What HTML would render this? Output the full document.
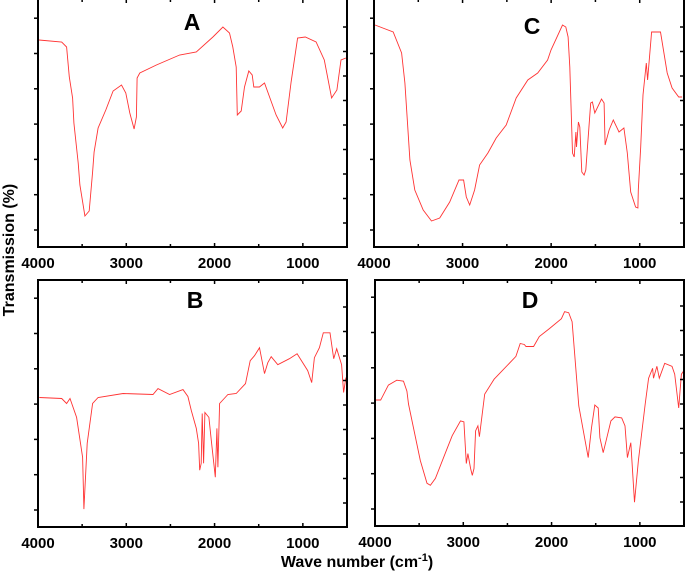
<!DOCTYPE html>
<html><head><meta charset="utf-8"><style>
html,body{margin:0;padding:0;background:#fff;}
svg{display:block;font-family:"Liberation Sans",Arial,sans-serif;}
</style></head><body>
<svg id="chart" width="685" height="573" viewBox="0 0 685 573" xmlns="http://www.w3.org/2000/svg">
<text x="0" y="0" transform="translate(14,250) rotate(-90)" text-anchor="middle" font-size="16" font-weight="bold">Transmission  (%)</text>
<text x="357" y="567" text-anchor="middle" font-size="16" font-weight="bold">Wave number  (cm<tspan dy="-6" font-size="11">-1</tspan><tspan dy="6">)</tspan></text>
</svg>
<script>
const xTicks = [4000, 3000, 2000, 1000];
const xTickLabels = ["4000", "3000", "2000", "1000"];
const wnA = [3989,3732,3676,3646,3608,3593,3545,3525,3469,3420,3382,3364,3319,3232,3149,3054,3006,2960,2912,2885,2878,2847,2659,2396,2207,2019,1906,1831,1793,1755,1743,1698,1661,1612,1574,1556,1492,1435,1303,1228,1190,1133,1059,972,850,757,674,614,568,512];
const tA = [207,205,200,170,149,124,84,62,31,36,75,95,119,137,156,162,154,134,118,130,169,174,182,192,195,210,220,214,200,180,132,136,160,176,172,160,160,164,132,119,125,165,209,210,205,187,149,157,187,189];
const wnB = [3985,3732,3676,3638,3563,3495,3480,3443,3382,3319,3036,2697,2641,2509,2358,2302,2264,2207,2181,2169,2151,2140,2124,2109,2064,2037,1992,1974,1962,1943,1849,1755,1650,1596,1548,1491,1435,1397,1359,1284,1152,1065,945,900,869,813,768,692,651,617,561,538,512];
const tB = [130,129,124,129,110,70,18,84,124,130,134,133,139,133,138,131,117,99,84,57,64,114,64,115,110,87,50,99,60,124,133,134,144,167,172,180,154,165,171,163,169,174,157,145,170,180,195,195,169,179,163,135,150];
const wnC = [3989,3783,3688,3651,3595,3539,3445,3351,3258,3145,3040,2988,2958,2920,2864,2808,2714,2620,2507,2395,2264,2152,2040,2002,1872,1834,1808,1789,1759,1740,1721,1714,1692,1676,1654,1628,1609,1553,1534,1507,1432,1402,1391,1346,1298,1234,1178,1140,1102,1046,1020,1016,989,963,926,911,866,765,690,634,560,522];
const tC = [222,215,194,164,87,57,37,26,29,45,67,67,50,42,57,82,94,109,122,149,167,174,187,197,222,220,210,180,94,90,115,100,125,120,75,72,77,144,145,134,148,144,102,117,127,115,119,94,55,40,39,57,100,152,184,167,215,215,174,159,150,150];
const wnD = [3989,3935,3848,3753,3677,3639,3620,3487,3411,3373,3316,3183,3126,3031,2993,2966,2948,2917,2898,2879,2860,2834,2818,2757,2651,2404,2355,2309,2290,2203,2139,2025,1889,1852,1806,1768,1692,1585,1548,1510,1472,1453,1415,1377,1328,1282,1206,1168,1141,1103,1061,1016,940,901,856,845,807,780,719,636,605,560,529,491];
const tD = [127,127,142,147,146,136,123,66,43,41,48,78,91,106,105,63,73,58,51,58,96,101,90,133,148,171,184,183,181,181,191,199,209,216,215,206,121,69,99,122,119,89,74,88,106,110,109,101,69,84,24,66,123,149,159,149,161,149,164,161,153,119,153,158];

const NS = "http://www.w3.org/2000/svg";
const svg = document.getElementById('chart');
function mk(tag, attrs, parent) {
  const e = document.createElementNS(NS, tag);
  for (const k in attrs) e.setAttribute(k, attrs[k]);
  (parent || svg).appendChild(e);
  return e;
}
const panels = [
  {id:'a', label:'A', x0:38, x1:347, y0:-1, y1:247, wn:wnA, t:tA, lx:192, ly:30},
  {id:'c', label:'C', x0:374, x1:684, y0:-1, y1:247, wn:wnC, t:tC, lx:532, ly:34},
  {id:'b', label:'B', x0:38, x1:347, y0:280, y1:527, wn:wnB, t:tB, lx:195, ly:308},
  {id:'d', label:'D', x0:375, x1:684, y0:280, y1:526, wn:wnD, t:tD, lx:530, ly:308}
];
panels.forEach(p => {
  const g = mk('g', {});
  
  
  const xs = w => p.x0 + (4000 - w) / 3500 * (p.x1 - p.x0);
  const ys = v => p.y1 - v / 248 * (p.y1 - p.y0);
  let d = '';
  p.wn.forEach((w, i) => { d += (i ? 'L' : 'M') + xs(w).toFixed(1) + ',' + ys(p.t[i]).toFixed(1); });
  const path = mk('path', {d:d, fill:'none', stroke:'#ff3333', 'stroke-width':0.9}, g);
  
  
  const fr = mk('rect', {x:p.x0, y:p.y0, width:p.x1 - p.x0, height:p.y1 - p.y0, fill:'none', stroke:'#000', 'stroke-width':2}, g);
  
  
  for (let w = 4000; w >= 500; w -= 500) {
    const x = xs(w);
    const len = (w % 1000 === 0) ? 4 : 3;
    mk('line', {x1:x, x2:x, y1:p.y1, y2:p.y1 - len, stroke:'#000', 'stroke-width':1.5}, g);
    mk('line', {x1:x, x2:x, y1:p.y0, y2:p.y0 + len, stroke:'#000', 'stroke-width':1.5}, g);
  }
  for (let y = p.y1 - 17; y > p.y0 + 5; y -= 35.3) {
    mk('line', {x1:p.x0 - 4, x2:p.x0, y1:y, y2:y, stroke:'#000', 'stroke-width':1.5}, g);
  }
  for (let y = p.y1 - 24; y > p.y0 + 20; y -= 24.5) {
    mk('line', {x1:p.x1 - 4, x2:p.x1, y1:y, y2:y, stroke:'#000', 'stroke-width':1.5}, g);
  }
  xTicks.forEach((w, i) => {
    const t = mk('text', {x:xs(w), y:p.y1 + 21, 'text-anchor':'middle', 'font-size':15, 'font-weight':'bold'}, g);
    
    
    t.textContent = xTickLabels[i];
  });
  const pl = mk('text', {x:p.lx, y:p.ly, 'text-anchor':'middle', 'font-size':23, 'font-weight':'bold'}, g);
  
  
  pl.textContent = p.label;
});
</script>
</body></html>
